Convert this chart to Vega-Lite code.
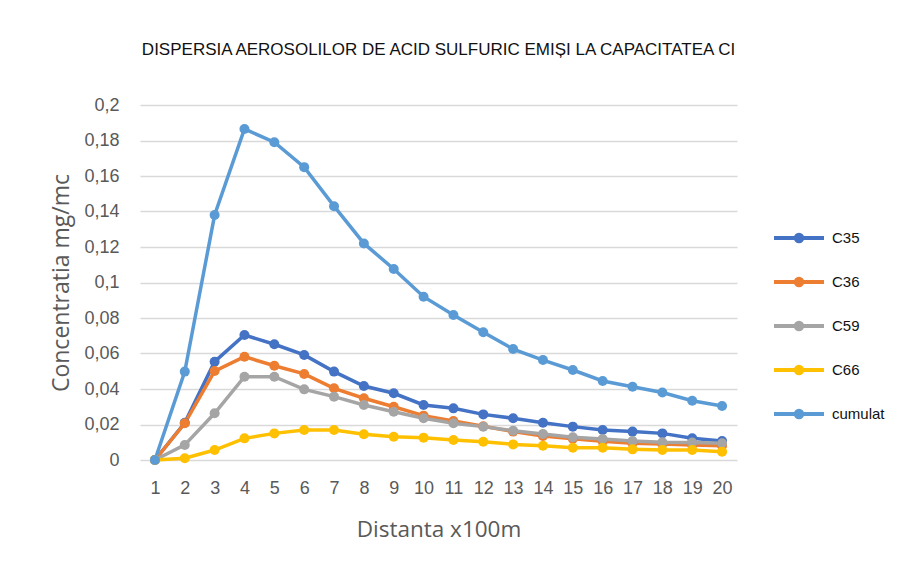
{
  "$schema": "https://vega.github.io/schema/vega-lite/v6.json",
  "width": 597,
  "height": 355,
  "autosize": {"type": "none"},
  "padding": {"left": 140, "top": 105, "right": 168, "bottom": 106},
  "background": "white",
  "title": {
    "text": "DISPERSIA AEROSOLILOR DE ACID SULFURIC EMIȘI LA CAPACITATEA CI",
    "font": "Liberation Sans",
    "fontSize": 17,
    "fontWeight": "normal",
    "color": "#111111",
    "anchor": "middle",
    "frame": "group",
    "offset": 37
  },
  "config": {
    "view": {"stroke": null},
    "locale": {"number": {"decimal": ",", "thousands": ".", "grouping": [3], "currency": ["", ""]}}
  },
  "data": {
    "values": [
      {"d": 1, "C35": 0, "C36": 0, "C59": 0, "C66": 0, "cumulat": 0},
      {"d": 2, "C35": 0.021, "C36": 0.0207, "C59": 0.0085, "C66": 0.001, "cumulat": 0.0498},
      {"d": 3, "C35": 0.0554, "C36": 0.0501, "C59": 0.0263, "C66": 0.0056, "cumulat": 0.138},
      {"d": 4, "C35": 0.0704, "C36": 0.0582, "C59": 0.0469, "C66": 0.0122, "cumulat": 0.1865},
      {"d": 5, "C35": 0.0652, "C36": 0.0531, "C59": 0.0469, "C66": 0.015, "cumulat": 0.179},
      {"d": 6, "C35": 0.0592, "C36": 0.0485, "C59": 0.0398, "C66": 0.0169, "cumulat": 0.165},
      {"d": 7, "C35": 0.0498, "C36": 0.0404, "C59": 0.0357, "C66": 0.0169, "cumulat": 0.143},
      {"d": 8, "C35": 0.0417, "C36": 0.0348, "C59": 0.031, "C66": 0.0145, "cumulat": 0.122},
      {"d": 9, "C35": 0.0376, "C36": 0.030, "C59": 0.0272, "C66": 0.0131, "cumulat": 0.1076},
      {"d": 10, "C35": 0.031, "C36": 0.025, "C59": 0.0235, "C66": 0.0126, "cumulat": 0.092},
      {"d": 11, "C35": 0.0291, "C36": 0.022, "C59": 0.0207, "C66": 0.0113, "cumulat": 0.0817},
      {"d": 12, "C35": 0.0257, "C36": 0.019, "C59": 0.0188, "C66": 0.0103, "cumulat": 0.072},
      {"d": 13, "C35": 0.0235, "C36": 0.016, "C59": 0.0165, "C66": 0.0088, "cumulat": 0.0625},
      {"d": 14, "C35": 0.021, "C36": 0.0135, "C59": 0.0146, "C66": 0.008, "cumulat": 0.0563},
      {"d": 15, "C35": 0.0188, "C36": 0.012, "C59": 0.0128, "C66": 0.0069, "cumulat": 0.0507},
      {"d": 16, "C35": 0.0169, "C36": 0.0105, "C59": 0.0118, "C66": 0.0069, "cumulat": 0.0445},
      {"d": 17, "C35": 0.016, "C36": 0.0095, "C59": 0.0107, "C66": 0.006, "cumulat": 0.0413},
      {"d": 18, "C35": 0.015, "C36": 0.009, "C59": 0.010, "C66": 0.0056, "cumulat": 0.038},
      {"d": 19, "C35": 0.0122, "C36": 0.0085, "C59": 0.0098, "C66": 0.0056, "cumulat": 0.0334},
      {"d": 20, "C35": 0.0107, "C36": 0.008, "C59": 0.0094, "C66": 0.0047, "cumulat": 0.0304}
    ]
  },
  "transform": [
    {"fold": ["C35", "C36", "C59", "C66", "cumulat"], "as": ["series", "value"]}
  ],
  "mark": {
    "type": "line",
    "strokeWidth": 3.5,
    "point": {"filled": true, "size": 100}
  },
  "encoding": {
    "x": {
      "field": "d",
      "type": "ordinal",
      "title": "Distanta x100m",
      "axis": {
        "labelAngle": 0,
        "domain": false,
        "ticks": false,
        "labelFont": "Liberation Sans",
        "labelFontSize": 18,
        "labelColor": "#595959",
        "labelPadding": 19,
        "titleFont": "Open Sans",
        "titleFontSize": 22.5,
        "titleFontWeight": "normal",
        "titleColor": "#595959",
        "titlePadding": 21
      }
    },
    "y": {
      "field": "value",
      "type": "quantitative",
      "scale": {"domain": [0, 0.2], "nice": false},
      "title": "Concentratia mg/mc",
      "axis": {
        "values": [0, 0.02, 0.04, 0.06, 0.08, 0.1, 0.12, 0.14, 0.16, 0.18, 0.2],
        "format": "~g",
        "domain": false,
        "ticks": false,
        "gridColor": "#d9d9d9",
        "gridWidth": 1.5,
        "labelFont": "Liberation Sans",
        "labelFontSize": 18,
        "labelColor": "#595959",
        "labelPadding": 21,
        "titleFont": "Open Sans",
        "titleFontSize": 23,
        "titleFontWeight": "normal",
        "titleColor": "#595959",
        "titlePadding": 10
      }
    },
    "color": {
      "field": "series",
      "type": "nominal",
      "scale": {
        "domain": ["C35", "C36", "C59", "C66", "cumulat"],
        "range": ["#4472C4", "#ED7D31", "#A5A5A5", "#FFC000", "#5B9BD5"]
      },
      "legend": {
        "title": null,
        "orient": "none",
        "legendX": 632,
        "legendY": 106,
        "symbolType": "M-1,0H1M0.13,0A0.13,0.13 0 1,1 -0.13,0A0.13,0.13 0 1,1 0.13,0",
        "symbolSize": 2500,
        "symbolStrokeWidth": 4,
        "rowPadding": 5,
        "labelFont": "Liberation Sans",
        "labelFontSize": 15,
        "labelColor": "#111111",
        "labelOffset": 6
      }
    }
  }
}
